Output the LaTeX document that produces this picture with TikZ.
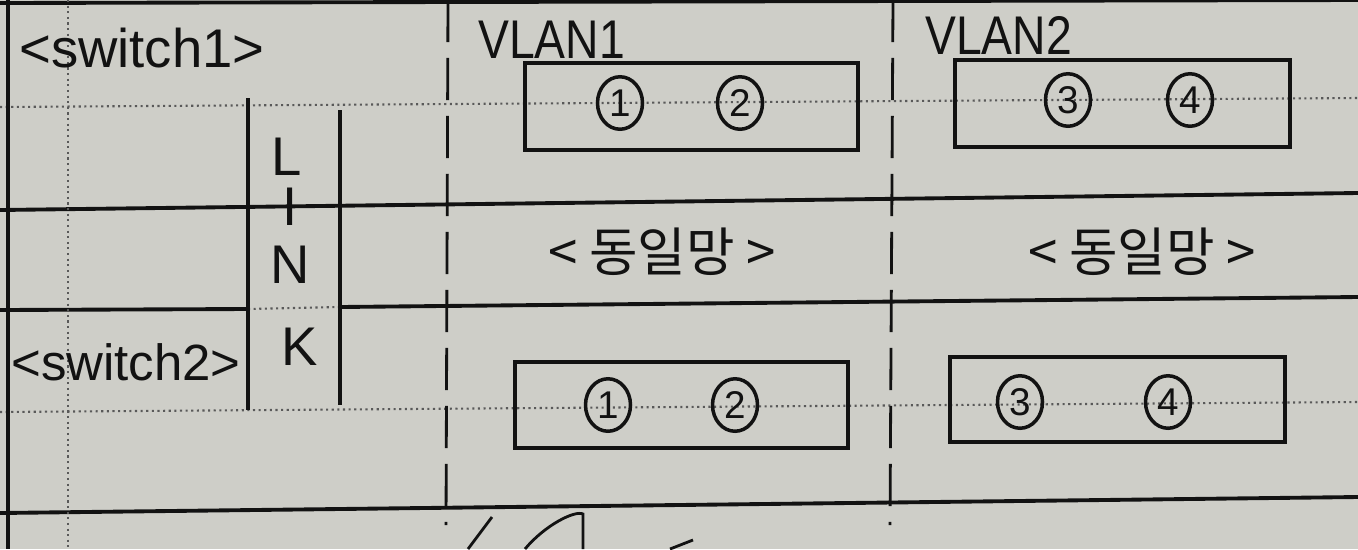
\documentclass[tikz,border=0pt]{standalone}
\usepackage{fontspec}
\setmainfont{Liberation Sans}
\newfontfamily\krfont{Noto Sans CJK KR}
\usetikzlibrary{shapes.geometric}
\definecolor{paper}{RGB}{206,206,200}
\definecolor{ink}{RGB}{18,18,18}
\begin{document}
\begin{tikzpicture}[x=0.02cm,y=-0.02cm,
  paperline/.style={line width=2.2pt, draw=ink},
  dotline/.style={line width=1.2pt, dotted, draw=black!65},
  dashline/.style={line width=1.6pt, draw=ink, dash pattern=on 24pt off 9pt},
  linkline/.style={line width=2.6pt, draw=ink},
  portbox/.style={draw=ink, line width=2.4pt, rectangle, inner sep=0pt},
  port/.style={ellipse, draw=ink, line width=2pt, minimum width=0.9cm, minimum height=1.05cm, inner sep=0pt, text=ink, font=\fontsize{22}{22}\selectfont},
  lbl/.style={text=ink, inner sep=0pt, font=\fontsize{31}{31}\selectfont},
  swlbl/.style={text=ink, inner sep=0pt, font=\fontsize{29}{29}\selectfont},
  vlbl/.style={text=ink, inner sep=0pt, font=\fontsize{31}{31}\selectfont, xscale=0.85},
  krlbl/.style={text=ink, inner sep=0pt, font=\krfont\fontsize{30}{30}\selectfont},
  scribble/.style={line width=1.6pt, draw=ink}
]
\fill[paper] (0,0) rectangle (1358,549);
\useasboundingbox (0,0) rectangle (1358,549);

% paper ruling
\draw[paperline] (0,3) -- (1358,0);
\draw[dotline] (0,107) -- (1358,98);
\draw[paperline] (0,210) -- (1358,193);
\draw[paperline] (0,310) -- (248,309);
\draw[dotline] (248,309) -- (340,307);
\draw[paperline] (340,307) -- (1358,297);
\draw[dotline] (0,412) -- (1358,402);
\draw[paperline] (0,513) -- (1358,497);
\draw[paperline] (8,0) -- (8,549);
\draw[dotline] (68,0) -- (68,549);

% VLAN separators
\draw[dashline] (448,0) -- (446,525);
\draw[dashline] (893,0) -- (890,525);

% LINK column
\draw[linkline] (248,98) -- (248,410);
\draw[linkline] (340,110) -- (340,405);

% labels
\node[lbl] (sw1) at (142,48) {<switch1>};
\node[swlbl, anchor=west] (sw2) at (11,362) {<switch2>};
\node[vlbl, anchor=west] (v1) at (478,40) {VLAN1};
\node[vlbl, anchor=west] (v2) at (925,35) {VLAN2};
\node[lbl] (lL) at (287,157) {L};
\node[lbl] (lI) at (290,207) {I};
\node[lbl] (lN) at (290,265) {N};
\node[lbl] (lK) at (300,347) {K};
\node[krlbl] (kr1) at (662,252) {< 동일망 >};
\node[krlbl] (kr2) at (1142,252) {< 동일망 >};

% switch 1 boxes
\node[portbox, minimum width=6.66cm, minimum height=1.74cm] (b11) at (691.5,106.5) {};
\node[portbox, minimum width=6.7cm, minimum height=1.74cm] (b12) at (1122.5,103.5) {};
% switch 2 boxes
\node[portbox, minimum width=6.66cm, minimum height=1.72cm] (b21) at (681.5,405) {};
\node[portbox, minimum width=6.7cm, minimum height=1.7cm] (b22) at (1117.5,399.5) {};

% ports
\node[port] (p11) at (620,103) {1};
\node[port] (p12) at (740,103) {2};
\node[port] (p13) at (1068,100) {3};
\node[port] (p14) at (1190,100) {4};
\node[port] (p21) at (608,405) {1};
\node[port] (p22) at (735,405) {2};
\node[port] (p23) at (1020,402) {3};
\node[port] (p24) at (1168,402) {4};

% scribbles at the bottom edge
\draw[scribble] (468,549) -- (492,517);
\draw[scribble] (525,549) .. controls (545,525) and (575,510) .. (583,514) -- (583,549);
\draw[scribble] (670,549) -- (693,540);
\end{tikzpicture}
\end{document}
